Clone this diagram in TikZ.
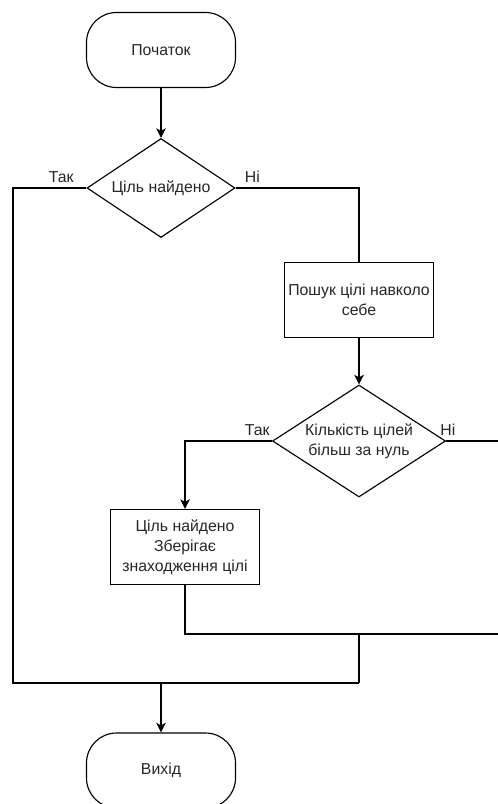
\documentclass[tikz,border=0pt]{standalone}
\usepackage{fontspec}
\setmainfont{Liberation Sans}
\usetikzlibrary{arrows.meta,positioning,shapes.geometric}
\begin{document}
\begin{tikzpicture}[>={Stealth[length=5.5pt,width=5.5pt,inset=1.5pt]},line width=0.65pt,font=\fontsize{9}{11.4}\selectfont]
\tikzstyle{term}=[draw,rounded corners=0.6cm,minimum width=2.98cm,minimum height=1.5cm,text=black!85]
\tikzstyle{proc}=[draw,minimum width=2.98cm,minimum height=1.5cm,align=center,inner sep=1pt,text=black!85]
\tikzstyle{dec}=[draw,diamond,aspect=1.5,inner sep=0pt,align=center,text=black!85]
\tikzstyle{lbl}=[inner sep=1pt,text=black!85]
\useasboundingbox (0,0) rectangle (9.96,-16.08);
\node[term] (start) at (3.22,-1.0) {Початок};
\node[dec,minimum width=2.96cm,minimum height=1.98cm] (d1) at (3.22,-3.76) {Ціль найдено};
\node[proc] (search) at (7.18,-6.0) {Пошук цілі навколо\\себе};
\node[dec,minimum width=3.46cm,minimum height=2.24cm] (d2) at (7.18,-8.82) {Кількість цілей\\більш за нуль};
\node[proc] (found) at (3.70,-10.94) {Ціль найдено\\Зберігає\\знаходження цілі};
\node[term] (exit) at (3.22,-15.41) {Вихід};
\node[lbl,above left=2pt and 6pt of d1.west] {Так};
\node[lbl,above right=2pt and 4pt of d1.east] {Ні};
\node[lbl,above left=2pt and 0pt of d2.west] {Так};
\node[lbl,above right=2pt and -0.16cm of d2.east] {Ні};
\coordinate (lb) at (0.26,-13.66);
\coordinate (j1) at (7.18,-12.68);
\coordinate (j2) at (7.18,-13.66);
\coordinate (r1) at (10.1,-8.82);
\coordinate (r2) at (10.1,-12.68);
\draw[->] (start) -- (d1);
\draw (d1.west) -| (lb) -- (j2);
\draw (d1.east) -| (search.north);
\draw[->] (search) -- (d2);
\draw[->] (d2.west) -| (found.north);
\draw (d2.east) -- (r1);
\draw (found.south) |- (r2);
\draw (j1) -- (j2);
\draw[->] (exit.north |- j2) -- (exit);
\end{tikzpicture}
\end{document}
